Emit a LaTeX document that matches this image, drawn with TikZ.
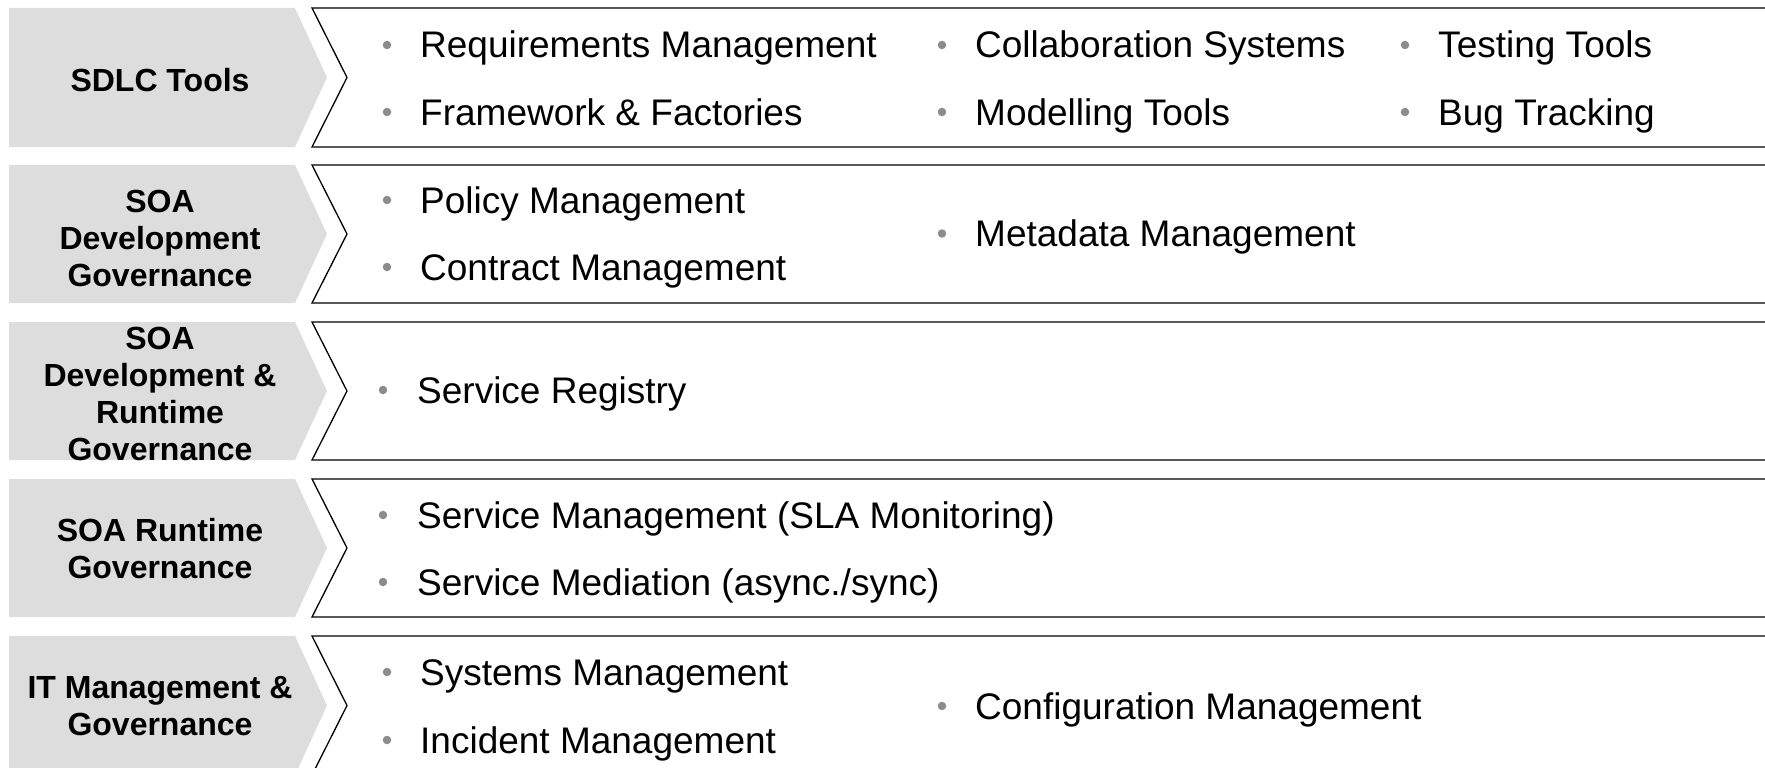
\documentclass[tikz,border=0pt]{standalone}
\usepackage{fontspec}
\setmainfont{Liberation Sans}
\definecolor{labelgray}{HTML}{DDDDDD}
\definecolor{bulletgray}{HTML}{8C8C8C}
\begin{document}
\begin{tikzpicture}[x=1pt,y=-1pt,
  lbl/.style={font=\fontsize{32}{37}\selectfont\bfseries, align=center, text=black, inner sep=0pt},
  itm/.style={font=\fontsize{37}{44}\selectfont, anchor=base west, inner sep=0pt, text=black},
  dotb/.style={circle, fill=bulletgray, minimum size=8.5pt, inner sep=0pt},
  chev/.style={fill=labelgray, draw=none},
  panel/.style={fill=white, draw=black, line width=1.3pt, line join=miter}]
\useasboundingbox (0,0) rectangle (1765,768);
\clip (0,0) rectangle (1765,768);

% row shapes
\fill[chev] (9,8) -- (295,8) -- (327,77.5) -- (295,147) -- (9,147) -- cycle;
\draw[panel] (1780,8) -- (312,8) -- (347,77.5) -- (312,147) -- (1780,147);
\fill[chev] (9,165) -- (295,165) -- (327,234) -- (295,303) -- (9,303) -- cycle;
\draw[panel] (1780,165) -- (312,165) -- (347,234) -- (312,303) -- (1780,303);
\fill[chev] (9,322) -- (295,322) -- (327,391) -- (295,460) -- (9,460) -- cycle;
\draw[panel] (1780,322) -- (312,322) -- (347,391) -- (312,460) -- (1780,460);
\fill[chev] (9,479) -- (295,479) -- (327,548) -- (295,617) -- (9,617) -- cycle;
\draw[panel] (1780,479) -- (312,479) -- (347,548) -- (312,617) -- (1780,617);
\fill[chev] (9,636) -- (295,636) -- (327,705.5) -- (295,775) -- (9,775) -- cycle;
\draw[panel] (1780,636) -- (312,636) -- (347,705.5) -- (312,775) -- (1780,775);

% labels
\node[lbl] (l1) at (160,80) {SDLC Tools};
\node[lbl] (l2) at (160,238.5) {SOA\\Development\\Governance};
\node[lbl] (l3) at (160,394) {SOA\\Development \&\\Runtime\\Governance};
\node[lbl] (l4) at (160,549) {SOA Runtime\\Governance};
\node[lbl] (l5) at (160,706) {IT Management \&\\Governance};

% row 1 items
\node[dotb] (b11) at (387,45) {};  \node[itm] (t11) at (420,58) {Requirements Management};
\node[dotb] (b12) at (387,112) {}; \node[itm] (t12) at (420,125) {Framework \& Factories};
\node[dotb] (b13) at (942,45) {};  \node[itm] (t13) at (975,58) {Collaboration Systems};
\node[dotb] (b14) at (942,112) {}; \node[itm] (t14) at (975,125) {Modelling Tools};
\node[dotb] (b15) at (1405,45) {}; \node[itm] (t15) at (1438,58) {Testing Tools};
\node[dotb] (b16) at (1405,112) {};\node[itm] (t16) at (1438,125) {Bug Tracking};

% row 2 items
\node[dotb] (b21) at (387,200) {};   \node[itm] (t21) at (420,213) {Policy Management};
\node[dotb] (b22) at (387,267) {};   \node[itm] (t22) at (420,280) {Contract Management};
\node[dotb] (b23) at (942,233.5) {}; \node[itm] (t23) at (975,246.5) {Metadata Management};

% row 3 items
\node[dotb] (b31) at (383,390) {}; \node[itm] (t31) at (417,403) {Service Registry};

% row 4 items
\node[dotb] (b41) at (383,515) {}; \node[itm] (t41) at (417,528) {Service Management (SLA Monitoring)};
\node[dotb] (b42) at (383,582) {}; \node[itm] (t42) at (417,595) {Service Mediation (async./sync)};

% row 5 items
\node[dotb] (b51) at (387,672) {}; \node[itm] (t51) at (420,685) {Systems Management};
\node[dotb] (b52) at (387,740) {}; \node[itm] (t52) at (420,753) {Incident Management};
\node[dotb] (b53) at (942,706) {}; \node[itm] (t53) at (975,719) {Configuration Management};
\end{tikzpicture}
\end{document}
